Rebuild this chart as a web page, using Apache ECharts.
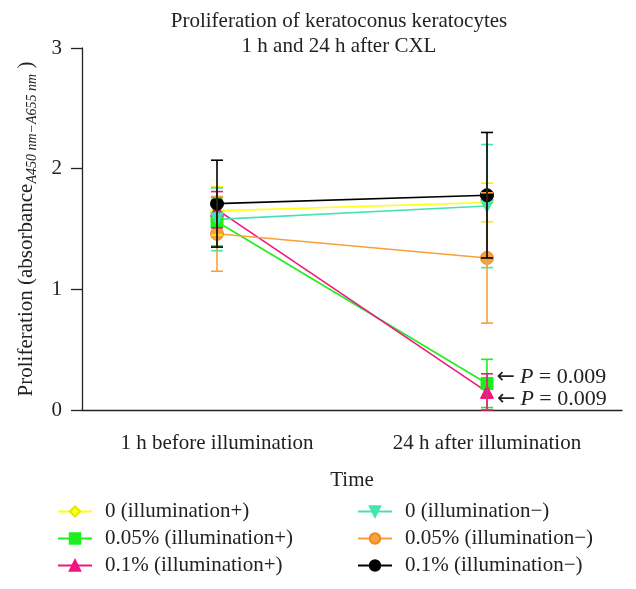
<!DOCTYPE html>
<html>
<head>
<meta charset="utf-8">
<script src="https://cdn.jsdelivr.net/npm/echarts@6/dist/echarts.min.js"></script>
<style>html,body{margin:0;padding:0;background:#fff}#c{width:636px;height:589px}</style>
</head>
<body>
<div id="c"></div>
<script>
const categories = ['1 h before illumination', '24 h after illumination'];
const yTicks = [0, 1, 2, 3];
const names = ['0 (illumination+)', '0.05% (illumination+)', '0.1% (illumination+)',
               '0 (illumination\u2212)', '0.05% (illumination\u2212)', '0.1% (illumination\u2212)'];
const meanYellow = [1.65, 1.72];  const sdYellow = [0.20, 0.16];
const meanGreen  = [1.56, 0.22];  const sdGreen  = [0.20, 0.20];
const meanPink   = [1.66, 0.15];  const sdPink   = [0.15, 0.15];
const meanTeal   = [1.58, 1.69];  const sdTeal   = [0.26, 0.51];
const meanOrange = [1.46, 1.26];  const sdOrange = [0.31, 0.54];
const meanBlack  = [1.71, 1.78];  const sdBlack  = [0.36, 0.52];
const pValues = ['0.009', '0.009'];

const FONT = 'Liberation Serif';
const FS = 21;
const defs = [
  {name: names[0], mean: meanYellow, sd: sdYellow, color: '#ffff1a', edge: '#e6e600', symbol: 'diamond', size: 13},
  {name: names[1], mean: meanGreen,  sd: sdGreen,  color: '#1cf01c', edge: '#1cf01c', symbol: 'rect', size: 12},
  {name: names[2], mean: meanPink,   sd: sdPink,   color: '#f0157f', edge: '#f0157f', symbol: 'triangle', size: 13},
  {name: names[3], mean: meanTeal,   sd: sdTeal,   color: '#45e3b3', edge: '#45e3b3', symbol: 'triangle', size: 13, rotate: 180},
  {name: names[4], mean: meanOrange, sd: sdOrange, color: '#f7a03c', edge: '#ee8a22', symbol: 'circle', size: 13},
  {name: names[5], mean: meanBlack,  sd: sdBlack,  color: '#000000', edge: '#000000', symbol: 'circle', size: 13}
];

const pRich = {
  a: {fontFamily: 'DejaVu Sans', fontSize: 22, color: '#222', padding: [0, 5, 0, 0]},
  i: {fontFamily: FONT, fontSize: 22, fontStyle: 'italic', color: '#222'},
  n: {fontFamily: FONT, fontSize: 22, color: '#222'}
};

const series = [];
defs.forEach((d, k) => {
  const data = d.mean.map((v, i) => {
    const item = {value: v};
    if (i === 1 && (k === 1 || k === 2)) {
      item.label = {
        show: true, position: 'right', distance: 3,
        offset: [0, k === 1 ? -6 : 7],
        formatter: '{a|\u2190}{i|P}{n| = ' + pValues[k - 1] + '}',
        rich: pRich
      };
    }
    return item;
  });
  series.push({
    type: 'line', name: d.name, data: data,
    symbol: d.symbol, symbolSize: d.size, symbolRotate: d.rotate || 0,
    lineStyle: {color: d.color, width: 1.6},
    itemStyle: {color: d.color, borderColor: d.edge, borderWidth: 1},
    emphasis: {disabled: true}, z: 3
  });
});
defs.forEach((d) => {
  series.push({
    type: 'custom', name: d.name + ' err',
    data: d.mean.map((v, i) => [i, v - d.sd[i], v + d.sd[i]]),
    renderItem: function (params, api) {
      const x = api.value(0);
      const lo = api.coord([x, api.value(1)]);
      const hi = api.coord([x, api.value(2)]);
      const hw = 6;
      const st = {stroke: d.color === '#ffff1a' ? '#f2f200' : d.color, lineWidth: 1.6};
      return {type: 'group', children: [
        {type: 'line', shape: {x1: lo[0], y1: lo[1], x2: hi[0], y2: hi[1]}, style: st},
        {type: 'line', shape: {x1: lo[0] - hw, y1: lo[1], x2: lo[0] + hw, y2: lo[1]}, style: st},
        {type: 'line', shape: {x1: hi[0] - hw, y1: hi[1], x2: hi[0] + hw, y2: hi[1]}, style: st}
      ]};
    },
    z: 4, silent: true
  });
});

function legendAt(left, data) {
  return {
    orient: 'vertical', left: left, top: 501, width: 280, height: 120, padding: 0,
    itemWidth: 34, itemHeight: 13, itemGap: 6,
    textStyle: {fontFamily: FONT, fontSize: FS, color: '#222', padding: [0, 0, 0, 8]},
    selectedMode: false, data: data
  };
}

const chart = echarts.init(document.getElementById('c'), null, {renderer: 'canvas'});
chart.setOption({
  animation: false,
  backgroundColor: '#fff',
  title: {
    text: 'Proliferation of keratoconus keratocytes\n1 h and 24 h after CXL',
    left: 334, top: 4, textAlign: 'center',
    textStyle: {fontFamily: FONT, fontSize: FS, fontWeight: 'normal', color: '#222', lineHeight: 25, align: 'center'}
  },
  legend: [legendAt(57, names.slice(0, 3)), legendAt(357, names.slice(3))],
  grid: {left: 82, right: 14, top: 48, bottom: 179},
  xAxis: {
    type: 'category', data: categories, boundaryGap: true,
    name: 'Time', nameLocation: 'middle', nameGap: 60,
    nameTextStyle: {fontFamily: FONT, fontSize: FS, color: '#222'},
    axisLine: {lineStyle: {color: '#222', width: 1.3}},
    axisTick: {alignWithLabel: true, length: 10, lineStyle: {color: '#222', width: 1.3}},
    axisLabel: {fontFamily: FONT, fontSize: FS, color: '#222', margin: 23}
  },
  yAxis: {
    type: 'value', min: yTicks[0], max: yTicks[yTicks.length - 1], interval: 1,
    name: '{t|Proliferation (absorbance}{s|A450 nm\u2212A655 nm}{t| )}',
    nameLocation: 'middle', nameGap: 43, nameRotate: 90,
    nameTextStyle: {
      rich: {
        t: {fontFamily: FONT, fontSize: FS, color: '#222'},
        s: {fontFamily: FONT, fontSize: 14, fontStyle: 'italic', color: '#222', verticalAlign: 'bottom', padding: [11, 0, 0, 0]}
      }
    },
    splitLine: {show: false},
    axisLine: {show: true, lineStyle: {color: '#222', width: 1.3}},
    axisTick: {show: true, length: 11, lineStyle: {color: '#222', width: 1.3}},
    axisLabel: {fontFamily: FONT, fontSize: FS, color: '#222', margin: 20}
  },
  series: series
});
</script>
</body>
</html>
